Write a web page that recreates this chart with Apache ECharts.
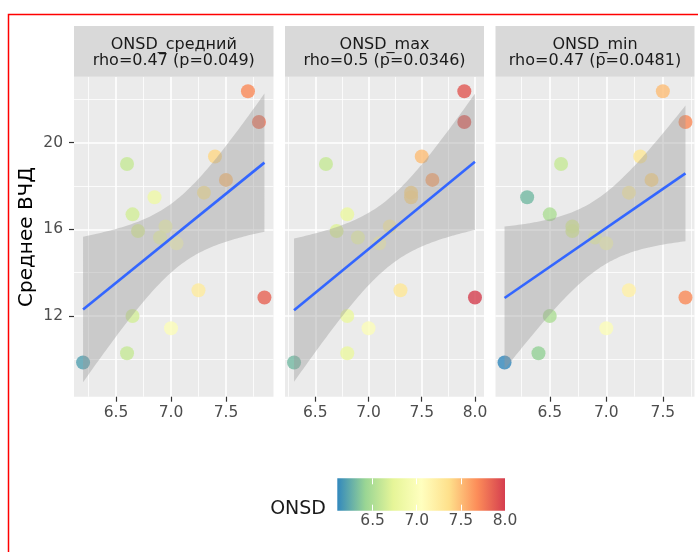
<!DOCTYPE html>
<html>
<head>
<meta charset="utf-8">
<script src="https://cdn.jsdelivr.net/npm/echarts@6/dist/echarts.min.js"></script>
<style>
  html, body { margin: 0; padding: 0; background: #fff; }
  #chart { width: 698px; height: 552px; }
</style>
</head>
<body>
<div id="chart"></div>
<script>
// Среднее ВЧД (общая ось Y для всех панелей)
const icp = [22.37, 20.95, 19.36, 19.01, 18.28, 17.69, 17.48, 16.69, 15.92, 16.13, 15.62, 15.35, 13.19, 12.85, 12.0, 11.43, 10.28, 9.85]
// ONSD по панелям, в том же порядке пациентов
const onsdMean = [7.7, 7.8, 7.4, 6.6, 7.5, 7.3, 6.85, 6.65, 6.7, 6.95, 6.9, 7.05, 7.25, 7.85, 6.65, 7.0, 6.6, 6.2]
const onsdMax = [7.9, 7.9, 7.5, 6.6, 7.6, 7.4, 7.4, 6.8, 6.7, 7.2, 6.9, 7.1, 7.3, 8.0, 6.8, 7.0, 6.8, 6.3]
const onsdMin = [7.5, 7.7, 7.3, 6.6, 7.4, 7.2, 6.3, 6.5, 6.7, 6.7, 6.9, 7.0, 7.2, 7.7, 6.5, 7.0, 6.4, 6.1]

const panelNames = ['ONSD_средний', 'ONSD_max', 'ONSD_min']
const rhoLabels = ['rho=0.47 (p=0.049)', 'rho=0.5 (p=0.0346)', 'rho=0.47 (p=0.0481)']
const xTicksMajor = [[6.5, 7.0, 7.5], [6.5, 7.0, 7.5, 8.0], [6.5, 7.0, 7.5]]
const xTicksMinor = [[6.25, 6.75, 7.25, 7.75], [6.25, 6.75, 7.25, 7.75], [6.25, 6.75, 7.25, 7.75]]
const yTicksMajor = [12, 16, 20]
const yTicksMinor = [10, 14, 18, 22]
const legendTicks = [6.5, 7.0, 7.5, 8.0]
const palette = ['#3288BD', '#99D594', '#E6F598', '#FFFFBF', '#FEE08B', '#FC8D59', '#D53E4F']

const panelX = [onsdMean, onsdMax, onsdMin]
const T975 = 2.1199 // t(0.975, df = 16)
const FONT = 'DejaVu Sans'

// layout
const panelLeft = [74, 285, 495.5]
const panelWidth = [199.5, 199, 199]
const panelTop = 76.7
const panelHeight = 320
const stripTop = 26

function fitLm(xs, ys) {
  const n = xs.length
  const mx = xs.reduce((a, b) => a + b, 0) / n
  const my = ys.reduce((a, b) => a + b, 0) / n
  let sxx = 0, sxy = 0
  xs.forEach((x, i) => { sxx += (x - mx) ** 2; sxy += (x - mx) * (ys[i] - my) })
  const b = sxy / sxx
  const a = my - b * mx
  let sse = 0
  xs.forEach((x, i) => { sse += (ys[i] - a - b * x) ** 2 })
  const s = Math.sqrt(sse / (n - 2))
  return { a, b, s, mx, sxx, n }
}

const fits = panelX.map(xs => {
  const f = fitLm(xs, icp)
  const lo = Math.min(...xs), hi = Math.max(...xs)
  const upper = [], lower = []
  for (let i = 0; i < 80; i++) {
    const x = lo + (hi - lo) * i / 79
    const yhat = f.a + f.b * x
    const se = f.s * Math.sqrt(1 / f.n + (x - f.mx) ** 2 / f.sxx)
    upper.push([x, yhat + T975 * se])
    lower.push([x, yhat - T975 * se])
  }
  return { f, lo, hi, upper, lower, line: [[lo, f.a + f.b * lo], [hi, f.a + f.b * hi]] }
})

// shared y range (points + ribbons, 5% expansion)
let yLo = Math.min(...icp), yHi = Math.max(...icp)
fits.forEach(d => {
  d.lower.forEach(p => { yLo = Math.min(yLo, p[1]) })
  d.upper.forEach(p => { yHi = Math.max(yHi, p[1]) })
})
const yPad = (yHi - yLo) * 0.05
const yRange = [yLo - yPad, yHi + yPad]

const allX = [].concat(onsdMean, onsdMax, onsdMin)
const colourMin = Math.min(...allX)
const colourMax = Math.max(...allX)

const chart = echarts.init(document.getElementById('chart'))

const grids = [], xAxes = [], yAxes = [], series = [], graphics = []

graphics.push({
  type: 'rect', z: 100,
  shape: { x: 8.5, y: 14.5, width: 760, height: 600 },
  style: { fill: 'none', stroke: '#FF0000', lineWidth: 1.5 }
})

panelX.forEach((xs, p) => {
  const d = fits[p]
  const pad = (d.hi - d.lo) * 0.05
  grids.push({
    left: panelLeft[p], top: panelTop, width: panelWidth[p], height: panelHeight,
    show: true, backgroundColor: '#EBEBEB', borderWidth: 0
  })
  // major x axis
  xAxes.push({
    type: 'value', gridIndex: p, min: d.lo - pad, max: d.hi + pad,
    axisLine: { show: false },
    axisTick: { show: true, customValues: xTicksMajor[p], length: 5, lineStyle: { color: '#333333', width: 1.2 } },
    axisLabel: {
      customValues: xTicksMajor[p], margin: 8, color: '#4D4D4D', fontSize: 15.5, fontFamily: FONT,
      formatter: v => v.toFixed(1)
    },
    splitLine: { show: true, lineStyle: { color: '#FFFFFF', width: 1.6 } }
  })
  // minor x grid
  xAxes.push({
    type: 'value', gridIndex: p, min: d.lo - pad, max: d.hi + pad,
    axisLine: { show: false },
    axisTick: { show: false, customValues: xTicksMinor[p] },
    axisLabel: { show: false },
    splitLine: { show: true, lineStyle: { color: '#FFFFFF', width: 0.8 } }
  })
  yAxes.push({
    type: 'value', gridIndex: p, min: yRange[0], max: yRange[1],
    axisLine: { show: false },
    axisTick: { show: p === 0, customValues: yTicksMajor, length: 5, lineStyle: { color: '#333333', width: 1.2 } },
    axisLabel: {
      show: p === 0, customValues: yTicksMajor, margin: 11, color: '#4D4D4D', fontSize: 15.5, fontFamily: FONT
    },
    splitLine: { show: true, lineStyle: { color: '#FFFFFF', width: 1.6 } }
  })
  yAxes.push({
    type: 'value', gridIndex: p, min: yRange[0], max: yRange[1],
    axisLine: { show: false },
    axisTick: { show: false, customValues: yTicksMinor },
    axisLabel: { show: false },
    splitLine: { show: true, lineStyle: { color: '#FFFFFF', width: 0.8 } }
  })

  series.push({
    type: 'scatter', xAxisIndex: p * 2, yAxisIndex: p * 2, z: 2,
    symbolSize: 14,
    data: xs.map((x, i) => [x, icp[i]])
  })
  series.push({
    type: 'custom', xAxisIndex: p * 2, yAxisIndex: p * 2, z: 3, silent: true,
    data: [[d.lo, d.line[0][1]]],
    renderItem: (params, api) => {
      const pts = d.upper.map(q => api.coord(q))
        .concat(d.lower.slice().reverse().map(q => api.coord(q)))
      return { type: 'polygon', shape: { points: pts }, style: { fill: 'rgba(153,153,153,0.4)' } }
    }
  })
  series.push({
    type: 'line', xAxisIndex: p * 2, yAxisIndex: p * 2, z: 4, silent: true,
    symbol: 'none', data: d.line,
    lineStyle: { color: '#3366FF', width: 2.6 }
  })

  // strip
  graphics.push({
    type: 'rect', z: 1,
    shape: { x: panelLeft[p], y: stripTop, width: panelWidth[p], height: panelTop - stripTop },
    style: { fill: '#D9D9D9' }
  })
  graphics.push({
    type: 'text', z: 2,
    x: panelLeft[p] + panelWidth[p] / 2, y: 53,
    style: {
      text: panelNames[p] + '\n' + rhoLabels[p], fill: '#1A1A1A',
      font: '16px "' + FONT + '"', lineHeight: 16,
      textAlign: 'center', textVerticalAlign: 'middle'
    }
  })
})

// colour bar legend
grids.push({ left: 337.3, top: 478.3, width: 167.7, height: 32.4, show: false })
xAxes.push({
  type: 'value', gridIndex: 3, min: colourMin, max: colourMax, position: 'bottom', z: 10,
  axisLine: { show: false },
  axisTick: { show: true, inside: true, customValues: legendTicks, length: 6, lineStyle: { color: '#FFFFFF', width: 1 } },
  axisLabel: { customValues: legendTicks, margin: 2, color: '#4D4D4D', fontSize: 15.5, fontFamily: FONT, formatter: v => v.toFixed(1) },
  splitLine: { show: false }
})
xAxes.push({
  type: 'value', gridIndex: 3, min: colourMin, max: colourMax, position: 'top', z: 10,
  axisLine: { show: false },
  axisTick: { show: true, inside: true, customValues: legendTicks, length: 6, lineStyle: { color: '#FFFFFF', width: 1 } },
  axisLabel: { show: false },
  splitLine: { show: false }
})
yAxes.push({ type: 'value', gridIndex: 3, min: 0, max: 1, show: false })
series.push({
  type: 'custom', xAxisIndex: 6, yAxisIndex: 6, z: 2, silent: true,
  data: [[colourMin, 0]],
  renderItem: (params, api) => {
    const a = api.coord([colourMin, 1])
    const b = api.coord([colourMax, 0])
    return {
      type: 'rect',
      shape: { x: a[0], y: a[1], width: b[0] - a[0], height: b[1] - a[1] },
      style: {
        fill: {
          type: 'linear', x: 0, y: 0, x2: 1, y2: 0,
          colorStops: palette.map((c, i) => ({ offset: i / (palette.length - 1), color: c }))
        }
      }
    }
  }
})

graphics.push({
  type: 'text', x: 326, y: 509.5,
  style: { text: 'ONSD', fill: '#1A1A1A', font: '19px "' + FONT + '"', textAlign: 'right', textVerticalAlign: 'middle' }
})
graphics.push({
  type: 'text', x: 26.7, y: 237, rotation: Math.PI / 2,
  style: { text: 'Среднее ВЧД', fill: '#000000', font: '20px "' + FONT + '"', textAlign: 'center', textVerticalAlign: 'middle' }
})

chart.setOption({
  backgroundColor: '#FFFFFF',
  animation: false,
  grid: grids,
  xAxis: xAxes,
  yAxis: yAxes,
  visualMap: {
    type: 'continuous', show: false, dimension: 0,
    seriesIndex: [0, 3, 6],
    min: colourMin, max: colourMax,
    inRange: { color: palette }
  },
  series: series,
  graphic: graphics
})
</script>
</body>
</html>
